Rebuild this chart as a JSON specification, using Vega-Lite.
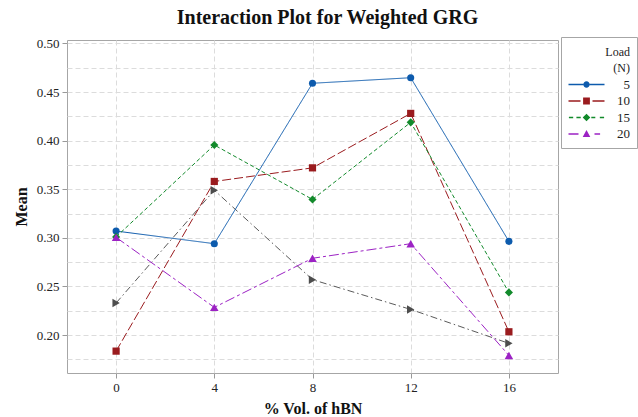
{
  "$schema": "https://vega.github.io/schema/vega-lite/v6.json",
  "width": 491,
  "height": 333,
  "autosize": {"type": "none"},
  "padding": {"left": 67, "top": 40, "right": 80, "bottom": 44},
  "background": "white",
  "title": {
    "text": "Interaction Plot for Weighted GRG",
    "font": "Liberation Serif",
    "fontSize": 20,
    "fontWeight": "bold",
    "color": "#111111",
    "anchor": "middle",
    "frame": "group",
    "dx": 15,
    "offset": 9
  },
  "data": {
    "values": [
      {"hBN": 0, "Load": "5", "Mean": 0.307},
      {"hBN": 4, "Load": "5", "Mean": 0.294},
      {"hBN": 8, "Load": "5", "Mean": 0.459},
      {"hBN": 12, "Load": "5", "Mean": 0.4647},
      {"hBN": 16, "Load": "5", "Mean": 0.2964},
      {"hBN": 0, "Load": "10", "Mean": 0.1835},
      {"hBN": 4, "Load": "10", "Mean": 0.358},
      {"hBN": 8, "Load": "10", "Mean": 0.372},
      {"hBN": 12, "Load": "10", "Mean": 0.428},
      {"hBN": 16, "Load": "10", "Mean": 0.2034},
      {"hBN": 0, "Load": "15", "Mean": 0.301},
      {"hBN": 4, "Load": "15", "Mean": 0.3955},
      {"hBN": 8, "Load": "15", "Mean": 0.3395},
      {"hBN": 12, "Load": "15", "Mean": 0.4188},
      {"hBN": 16, "Load": "15", "Mean": 0.2439},
      {"hBN": 0, "Load": "20", "Mean": 0.3005},
      {"hBN": 4, "Load": "20", "Mean": 0.2285},
      {"hBN": 8, "Load": "20", "Mean": 0.279},
      {"hBN": 12, "Load": "20", "Mean": 0.294},
      {"hBN": 16, "Load": "20", "Mean": 0.1791},
      {"hBN": 0, "Load": "25", "Mean": 0.233},
      {"hBN": 4, "Load": "25", "Mean": 0.349},
      {"hBN": 8, "Load": "25", "Mean": 0.257},
      {"hBN": 12, "Load": "25", "Mean": 0.2264},
      {"hBN": 16, "Load": "25", "Mean": 0.1915}
    ]
  },
  "encoding": {
    "x": {
      "field": "hBN",
      "type": "quantitative",
      "scale": {"domain": [-2, 18], "nice": false, "zero": false},
      "axis": {"values": [0, 4, 8, 12, 16], "format": "d", "title": "% Vol. of hBN"}
    },
    "y": {
      "field": "Mean",
      "type": "quantitative",
      "scale": {"domain": [0.161, 0.5035], "nice": false, "zero": false},
      "axis": {
        "values": [0.175, 0.2, 0.225, 0.25, 0.275, 0.3, 0.325, 0.35, 0.375, 0.4, 0.425, 0.45, 0.475, 0.5],
        "labelExpr": "abs(datum.value*20 - round(datum.value*20)) < 0.001 ? format(datum.value, '.2f') : ''",
        "tickColor": {"condition": {"test": "abs(datum.value*20 - round(datum.value*20)) < 0.001", "value": "#999999"}, "value": "transparent"},
        "title": "Mean"
      }
    }
  },
  "layer": [
    {
      "transform": [{"filter": "datum.Load == '25'"}],
      "mark": {"type": "line", "color": "#5a5a5a", "strokeWidth": 1, "strokeDash": [7, 3, 1.5, 3]},
      "encoding": {}
    },
    {
      "transform": [{"filter": "datum.Load != '25'"}],
      "mark": {"type": "line", "strokeWidth": 1},
      "encoding": {
        "color": {
          "field": "Load",
          "type": "nominal",
          "scale": {"domain": ["5", "10", "15", "20"], "range": ["#0d5bad", "#9a1b1e", "#128a2b", "#9c22c4"]},
          "legend": {
            "orient": "none",
            "legendX": 494,
            "legendY": -3,
            "title": ["Load", "(N)"],
            "titleFont": "Liberation Serif",
            "titleFontSize": 12,
            "titleFontWeight": "normal",
            "titleColor": "#222222",
            "titleAlign": "right",
            "titleAnchor": "end",
            "titleLineHeight": 16,
            "titlePadding": 6,
            "labelFont": "Liberation Serif",
            "labelFontSize": 13,
            "labelColor": "#222222",
            "labelAlign": "right",
            "labelOffset": 37,
            "symbolSize": 64,
            "symbolOffset": 12,
            "symbolStrokeWidth": 0,
            "padding": 7,
            "strokeColor": "#a6a6a6",
            "fillColor": "white",
            "rowPadding": 2.5,
            "encode": {
              "title": {
                "update": {"dy": {"value": 3}}
              },
              "symbols": {
                "update": {
                  "shape": {"signal": "datum.value == '5' ? 'M-4.5,-0.18H-0.8V0.18H-4.5Z M0.8,-0.18H4.5V0.18H0.8Z M-0.8,0A0.8,0.8 0 1,1 0.8,0A0.8,0.8 0 1,1 -0.8,0Z' : datum.value == '10' ? 'M-4.5,-0.18H-1.5V0.18H-4.5Z M1.5,-0.18H4.5V0.18H1.5Z M-0.85,-0.85H0.85V0.85H-0.85Z' : datum.value == '15' ? 'M-4.4,-0.18H-3.33V0.18H-4.4Z M-2.52,-0.18H-1.44V0.18H-2.52Z M1.2,-0.18H2.2V0.18H1.2Z M3.33,-0.18H4.4V0.18H3.33Z M0,-0.95L0.95,0L0,0.95L-0.95,0Z' : 'M-4.5,-0.18H-2.0V0.18H-4.5Z M2.0,-0.18H3.4V0.18H2.0Z M0,-1.0L0.95,0.77L-0.95,0.77Z'"},
                  "fill": {"signal": "datum.value == '5' ? '#0d5bad' : datum.value == '10' ? '#9a1b1e' : datum.value == '15' ? '#128a2b' : '#9c22c4'"},
                  "strokeWidth": {"value": 0},
                  "size": {"value": 64},
                  "opacity": {"value": 1},
                  "fillOpacity": {"value": 1}
                }
              }
            }
          }
        },
        "strokeDash": {
          "field": "Load",
          "type": "nominal",
          "scale": {"domain": ["5", "10", "15", "20"], "range": [[1, 0], [9, 3], [4, 2.5], [10, 3, 3, 3]]},
          "legend": null
        }
      }
    },
    {
      "transform": [{"filter": "datum.Load == '25'"}],
      "mark": {"type": "point", "shape": "triangle-right", "filled": true, "opacity": 1, "size": 72, "color": "#4d4d4d"},
      "encoding": {}
    },
    {
      "transform": [{"filter": "datum.Load == '5'"}],
      "mark": {"type": "point", "shape": "circle", "filled": true, "opacity": 1, "size": 50, "color": "#0d5bad"},
      "encoding": {}
    },
    {
      "transform": [{"filter": "datum.Load == '10'"}],
      "mark": {"type": "point", "shape": "square", "filled": true, "opacity": 1, "size": 52, "color": "#9a1b1e"},
      "encoding": {}
    },
    {
      "transform": [{"filter": "datum.Load == '15'"}],
      "mark": {"type": "point", "shape": "diamond", "filled": true, "opacity": 1, "size": 66, "color": "#128a2b"},
      "encoding": {}
    },
    {
      "transform": [{"filter": "datum.Load == '20'"}],
      "mark": {"type": "point", "shape": "triangle-up", "filled": true, "opacity": 1, "size": 74, "color": "#9c22c4"},
      "encoding": {}
    }
  ],
  "config": {
    "view": {"stroke": "#a6a6a6", "strokeWidth": 1},
    "axis": {
      "domain": false,
      "grid": true,
      "gridColor": "#dcdcdc",
      "gridDash": [5, 3],
      "gridWidth": 1,
      "tickColor": "#999999",
      "tickSize": 5,
      "labelFont": "Liberation Serif",
      "labelFontSize": 13,
      "labelColor": "#222222",
      "labelPadding": 3,
      "titleFont": "Liberation Serif",
      "titleFontSize": 16,
      "titleFontWeight": "bold",
      "titleColor": "#111111"
    },
    "axisX": {"titlePadding": 6},
    "axisY": {"titlePadding": 7}
  }
}
